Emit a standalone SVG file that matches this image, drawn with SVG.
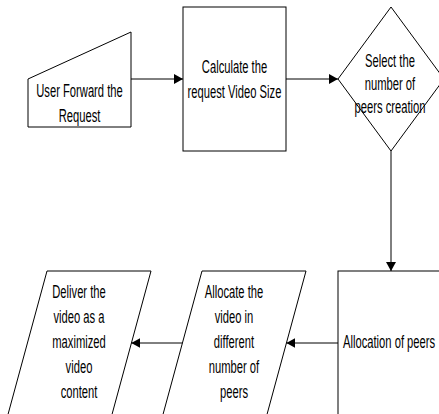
<svg xmlns="http://www.w3.org/2000/svg" width="439" height="414" viewBox="0 0 439 414">
<style>
.shape{fill:#fff;stroke:#000;stroke-width:1}
.conn{fill:none;stroke:#000;stroke-width:1}
.t{font-family:"Liberation Sans",Arial,sans-serif;font-size:17.5px;fill:#000;text-anchor:middle}
.ts{font-family:"Liberation Sans",Arial,sans-serif;font-size:17.5px;fill:#000;text-anchor:start}
</style>
<defs>
<marker id="arr" markerWidth="9" markerHeight="10" refX="9" refY="5" orient="auto" markerUnits="userSpaceOnUse">
<path d="M0,0 L9,5 L0,10 z" fill="#000"/>
</marker>
</defs>
<rect width="439" height="414" fill="#fff"/>
<g id="n1">
<path class="shape" d="M28,79 L131,32 L131,127 L28,127 Z"/>
<text class="t" transform="translate(79.5,97) scale(0.64,1)">User Forward the</text>
<text class="t" transform="translate(79.5,122) scale(0.64,1)">Request</text>
</g>
<g id="n2">
<rect class="shape" x="183" y="7" width="103" height="144"/>
<text class="t" transform="translate(234.5,73) scale(0.64,1)">Calculate the</text>
<text class="t" transform="translate(234.5,98) scale(0.64,1)">request Video Size</text>
</g>
<g id="n3">
<path class="shape" d="M391,7 L444,79 L391,151 L338,79 Z"/>
<text class="t" transform="translate(390,67) scale(0.64,1)">Select the</text>
<text class="t" transform="translate(390,90) scale(0.64,1)">number of</text>
<text class="t" transform="translate(390,113) scale(0.64,1)">peers creation</text>
</g>
<g id="n4">
<rect class="shape" x="338" y="271" width="120" height="160"/>
<text class="ts" transform="translate(343,348) scale(0.64,1)">Allocation of peers</text>
</g>
<g id="n5">
<path class="shape" d="M202,271 L306,271 L265.5,420 L161.5,420 Z"/>
<text class="t" transform="translate(234,298) scale(0.64,1)">Allocate the</text>
<text class="t" transform="translate(234,323) scale(0.64,1)">video in</text>
<text class="t" transform="translate(234,348) scale(0.64,1)">different</text>
<text class="t" transform="translate(234,373) scale(0.64,1)">number of</text>
<text class="t" transform="translate(234,398) scale(0.64,1)">peers</text>
</g>
<g id="n6">
<path class="shape" d="M47,271 L151,271 L110.5,420 L6.5,420 Z"/>
<text class="t" transform="translate(79,298) scale(0.64,1)">Deliver the</text>
<text class="t" transform="translate(79,323) scale(0.64,1)">video as a</text>
<text class="t" transform="translate(79,348) scale(0.64,1)">maximized</text>
<text class="t" transform="translate(79,373) scale(0.64,1)">video</text>
<text class="t" transform="translate(79,398) scale(0.64,1)">content</text>
</g>
<g id="connectors">
<path class="conn" d="M131,79 L183,79" marker-end="url(#arr)"/>
<path class="conn" d="M286,79 L338,79" marker-end="url(#arr)"/>
<path class="conn" d="M391,151 L391,271" marker-end="url(#arr)" stroke="#333"/>
<path class="conn" d="M338,343 L286.4,343" marker-end="url(#arr)"/>
<path class="conn" d="M182.4,343 L131.3,343" marker-end="url(#arr)"/>
</g>
</svg>
